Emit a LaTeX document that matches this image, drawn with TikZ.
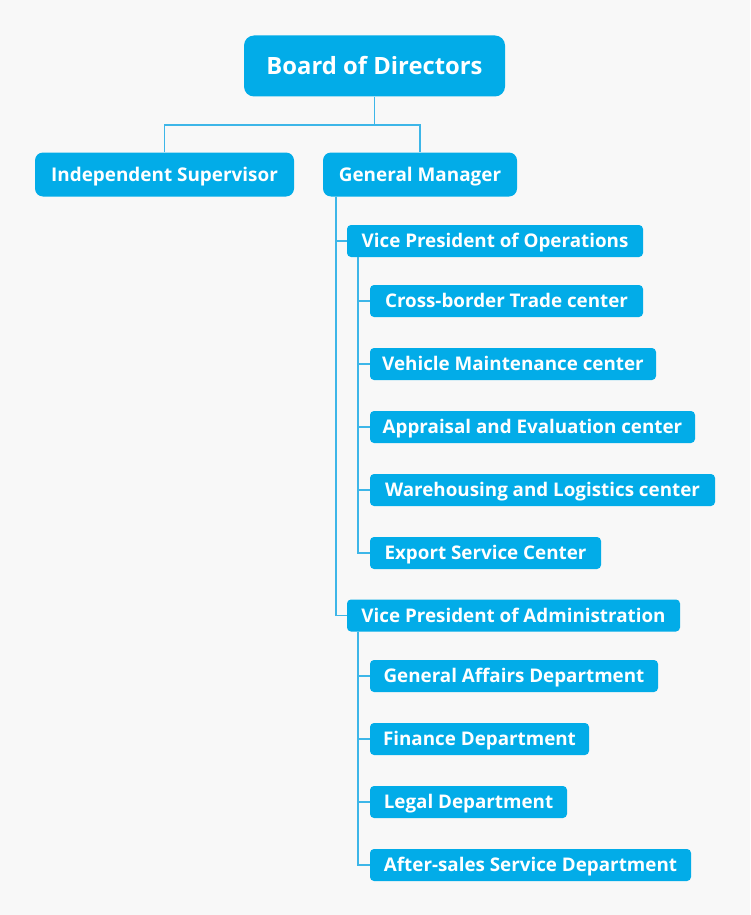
\documentclass[tikz,border=0pt]{standalone}
\usepackage{fontspec}
\setmainfont{Open Sans}
\definecolor{boxblue}{HTML}{02ACE8}
\definecolor{lineblue}{HTML}{3DB6E8}
\definecolor{bg}{HTML}{F8F8F8}
\begin{document}
\begin{tikzpicture}[x=1pt,y=-1pt,
  orgbox/.style={fill=boxblue,text=white,font=\bfseries,inner sep=0pt,anchor=center,text depth=0pt},
  topbox/.style={orgbox,rounded corners=10pt,text height=17pt,font=\bfseries\fontsize{23.8}{27}\selectfont},
  midbox/.style={orgbox,rounded corners=8pt,text height=13.5pt,font=\bfseries\fontsize{18.9}{22}\selectfont},
  subbox/.style={orgbox,rounded corners=4pt,text height=13.4pt,font=\bfseries\fontsize{18.8}{22}\selectfont},
  link/.style={draw=lineblue,line width=1.8pt}]
\fill[bg] (0,0) rectangle (750,915);
\useasboundingbox (0,0) rectangle (750,915);
% nodes: centre, width, height
\node[topbox,minimum width=261pt,minimum height=61pt] (board) at (374.5,66) {Board of Directors};
\node[midbox,minimum width=259pt,minimum height=44pt] (is) at (164.5,174.5) {Independent Supervisor};
\node[midbox,minimum width=194pt,minimum height=44pt] (gm) at (420,174.5) {General Manager};
\node[subbox,minimum width=296pt,minimum height=32pt] (vpo) at (495,241) {Vice President of Operations};
\node[subbox,minimum width=273pt,minimum height=32pt] (c1) at (506.5,301) {Cross-border Trade center};
\node[subbox,minimum width=286pt,minimum height=32pt] (c2) at (513,364) {Vehicle Maintenance center};
\node[subbox,minimum width=325pt,minimum height=32pt] (c3) at (532.5,427) {Appraisal and Evaluation center};
\node[subbox,minimum width=345pt,minimum height=32pt] (c4) at (542.5,490) {Warehousing and Logistics center};
\node[subbox,minimum width=231pt,minimum height=32pt] (c5) at (485.5,553) {Export Service Center};
\node[subbox,minimum width=333pt,minimum height=32pt] (vpa) at (513.5,615.5) {Vice President of Administration};
\node[subbox,minimum width=288pt,minimum height=32pt] (d1) at (514,676) {General Affairs Department};
\node[subbox,minimum width=219pt,minimum height=32pt] (d2) at (479.5,739) {Finance Department};
\node[subbox,minimum width=197pt,minimum height=32pt] (d3) at (468.5,802) {Legal Department};
\node[subbox,minimum width=321pt,minimum height=32pt] (d4) at (530.5,865) {After-sales Service Department};
% connectors
\draw[link] (board.south) -- ++(0,28) coordinate (bj);
\draw[link] (bj) -| (is.north);
\draw[link] (bj) -| (gm.north);
\draw[link] ([xshift=13pt]gm.south west) |- (vpo.west);
\draw[link] ([xshift=13pt]gm.south west) |- (vpa.west);
\foreach \c in {c1,c2,c3,c4,c5}
  \draw[link] ([xshift=11pt]vpo.south west) |- (\c.west);
\foreach \d in {d1,d2,d3,d4}
  \draw[link] ([xshift=11pt]vpa.south west) |- (\d.west);
\end{tikzpicture}
\end{document}
